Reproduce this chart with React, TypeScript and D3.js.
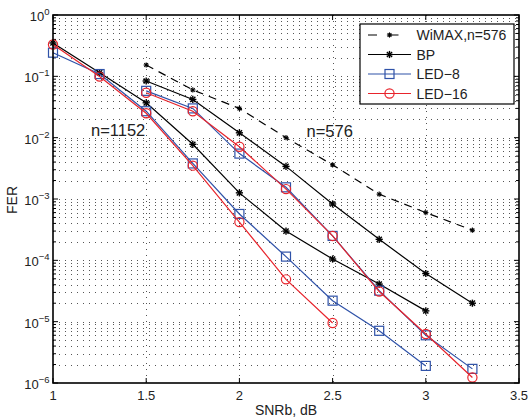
import React from "react";
import * as d3 from "d3";

const snr1152 = [1, 1.25, 1.5, 1.75, 2, 2.25, 2.5, 2.75, 3];
const snr576 = [1.5, 1.75, 2, 2.25, 2.5, 2.75, 3, 3.25];

const wimax576 = [0.153, 0.06, 0.030, 0.010, 0.0036, 0.0012, 6.0e-4, 3.1e-4];
const bp576 = [0.084, 0.042, 0.012, 0.0034, 8.3e-4, 2.2e-4, 6.1e-5, 2.0e-5];
const led8_576 = [0.058, 0.030, 0.0055, 0.00155, 2.5e-4, 3.2e-5, 6.0e-6, 1.7e-6];
const led16_576 = [0.054, 0.027, 0.0071, 0.00145, 2.5e-4, 3.1e-5, 6.3e-6, 1.23e-6];

const bp1152 = [0.35, 0.114, 0.037, 0.0078, 0.00126, 3.0e-4, 1.05e-4, 4.1e-5, 1.5e-5];
const led8_1152 = [0.243, 0.109, 0.027, 0.0038, 5.7e-4, 1.15e-4, 2.2e-5, 7.1e-6, 1.9e-6];
const led16_1152 = [0.33, 0.099, 0.025, 0.0035, 4.2e-4, 4.9e-5, 9.5e-6];

const xTicks = [1, 1.5, 2, 2.5, 3, 3.5];
const yExps = [0, -1, -2, -3, -4, -5, -6];
const legendLabels = ["WiMAX,n=576", "BP", "LED\u22128", "LED\u221216"];

const BLUE = "#2f52a8";
const RED = "#e8242c";
const FONT = "Liberation Sans, Arial, Helvetica, sans-serif";

const L = 53, R = 519, T = 15, B = 383;

const x = d3.scaleLinear().domain([1, 3.5]).range([L, R]);
const y = d3.scaleLog().domain([1e-6, 1]).range([B, T]);

type Pt = [number, number];

function Star({ cx, cy, r, sw }: { cx: number; cy: number; r: number; sw: number }) {
  const d = r * 0.72;
  return (
    <g stroke="#000" strokeWidth={sw}>
      <line x1={cx - r} y1={cy} x2={cx + r} y2={cy} />
      <line x1={cx} y1={cy - r} x2={cx} y2={cy + r} />
      <line x1={cx - d} y1={cy - d} x2={cx + d} y2={cy + d} />
      <line x1={cx - d} y1={cy + d} x2={cx + d} y2={cy - d} />
    </g>
  );
}

function Marker({ cx, cy, marker, color }: { cx: number; cy: number; marker: string; color: string }) {
  if (marker === "square")
    return <rect x={cx - 4.5} y={cy - 4.5} width={9} height={9} fill="none" stroke={color} strokeWidth={1.2} />;
  if (marker === "circle")
    return <circle cx={cx} cy={cy} r={4.6} fill="none" stroke={color} strokeWidth={1.2} />;
  if (marker === "star") return <Star cx={cx} cy={cy} r={3.6} sw={1.4} />;
  return <Star cx={cx} cy={cy} r={2.6} sw={1.1} />;
}

function Series({
  xs, ys, color, marker, dash,
}: { xs: number[]; ys: number[]; color: string; marker: string; dash?: string }) {
  const pts: Pt[] = ys.map((v, i) => [x(xs[i]), y(v)]);
  const line = d3.line<Pt>().x((p) => p[0]).y((p) => p[1]);
  return (
    <g>
      <path d={line(pts) || ""} fill="none" stroke={color} strokeWidth={1.2} strokeDasharray={dash} />
      {pts.map((p, i) => (
        <Marker key={i} cx={p[0]} cy={p[1]} marker={marker} color={color} />
      ))}
    </g>
  );
}

export default function App() {
  const minorY: number[] = [];
  for (let e = -6; e < 0; e++) for (let k = 2; k <= 9; k++) minorY.push(k * Math.pow(10, e));
  const majorY = yExps.map((e) => Math.pow(10, e));

  const legY = [35, 54.5, 74, 93.5];
  const lx1 = 368, lx2 = 411, lmid = 389.5;

  return (
    <svg width={529} height={419} style={{ position: "absolute", left: 0, top: 0, background: "#fff" }} fontFamily={FONT}>
      <rect x={0} y={0} width={529} height={419} fill="#fff" />
      {/* grid */}
      <g stroke="#555" strokeWidth={1} strokeDasharray="1 5">
        {majorY.concat(minorY).filter((v) => v < 1 && v > 1e-6).map((v, i) => (
          <line key={"h" + i} x1={L} x2={R} y1={Math.round(y(v)) + 0.5} y2={Math.round(y(v)) + 0.5} />
        ))}
        {xTicks.filter((t) => t > 1 && t < 3.5).map((t, i) => (
          <line key={"v" + i} x1={Math.round(x(t)) + 0.5} x2={Math.round(x(t)) + 0.5} y1={T} y2={B} />
        ))}
      </g>
      {/* ticks */}
      <g stroke="#000" strokeWidth={1}>
        {xTicks.map((t, i) => (
          <g key={"xt" + i}>
            <line x1={x(t)} x2={x(t)} y1={B} y2={B - 5} />
            <line x1={x(t)} x2={x(t)} y1={T} y2={T + 5} />
          </g>
        ))}
        {majorY.map((v, i) => (
          <g key={"yt" + i}>
            <line x1={L} x2={L + 5} y1={y(v)} y2={y(v)} />
            <line x1={R} x2={R - 5} y1={y(v)} y2={y(v)} />
          </g>
        ))}
        {minorY.map((v, i) => (
          <g key={"ym" + i}>
            <line x1={L} x2={L + 3} y1={y(v)} y2={y(v)} />
            <line x1={R} x2={R - 3} y1={y(v)} y2={y(v)} />
          </g>
        ))}
      </g>
      {/* series */}
      <Series xs={snr576} ys={wimax576} color="#000" marker="x" dash="8 6" />
      <Series xs={snr576} ys={bp576} color="#000" marker="star" />
      <Series xs={snr1152} ys={bp1152} color="#000" marker="star" />
      <Series xs={snr576} ys={led8_576} color={BLUE} marker="square" />
      <Series xs={snr1152} ys={led8_1152} color={BLUE} marker="square" />
      <Series xs={snr576} ys={led16_576} color={RED} marker="circle" />
      <Series xs={snr1152.slice(0, led16_1152.length)} ys={led16_1152} color={RED} marker="circle" />
      {/* axes box */}
      <rect x={L} y={T} width={R - L} height={B - T} fill="none" stroke="#000" strokeWidth={1.6} />
      {/* tick labels */}
      <g fontSize={13} fill="#222">
        {xTicks.map((t, i) => (
          <text key={"xl" + i} x={x(t)} y={400} textAnchor="middle">{String(t)}</text>
        ))}
        {yExps.map((e, i) => (
          <text key={"yl" + i} x={49.5} y={y(Math.pow(10, e)) + 6} textAnchor="end">
            10<tspan fontSize={9.5} dy={-6}>{e === 0 ? "0" : "\u2212" + String(-e)}</tspan>
          </text>
        ))}
      </g>
      <text x={286} y={415} fontSize={14} textAnchor="middle" fill="#222">SNRb, dB</text>
      <text transform="translate(17,200) rotate(-90)" fontSize={14} textAnchor="middle" fill="#222">FER</text>
      {/* annotations */}
      <text x={91} y={136} fontSize={16.5} fill="#222">n=1152</text>
      <text x={306.5} y={136.5} fontSize={16.5} fill="#222">n=576</text>
      {/* legend */}
      <rect x={360} y={24} width={154} height={80} fill="#fff" stroke="#000" strokeWidth={1.2} />
      <g>
        <line x1={lx1} x2={lx2} y1={legY[0]} y2={legY[0]} stroke="#000" strokeWidth={1.2} strokeDasharray="9 12.5" />
        <Marker cx={lmid} cy={legY[0]} marker="x" color="#000" />
        <line x1={lx1} x2={lx2} y1={legY[1]} y2={legY[1]} stroke="#000" strokeWidth={1.2} />
        <Marker cx={lmid} cy={legY[1]} marker="star" color="#000" />
        <line x1={lx1} x2={lx2} y1={legY[2]} y2={legY[2]} stroke={BLUE} strokeWidth={1.2} />
        <Marker cx={lmid} cy={legY[2]} marker="square" color={BLUE} />
        <line x1={lx1} x2={lx2} y1={legY[3]} y2={legY[3]} stroke={RED} strokeWidth={1.2} />
        <Marker cx={lmid} cy={legY[3]} marker="circle" color={RED} />
        {legendLabels.map((s, i) => (
          <text key={"lg" + i} x={416.5} y={legY[i] + 5} fontSize={14} fill="#222">{s}</text>
        ))}
      </g>
    </svg>
  );
}
